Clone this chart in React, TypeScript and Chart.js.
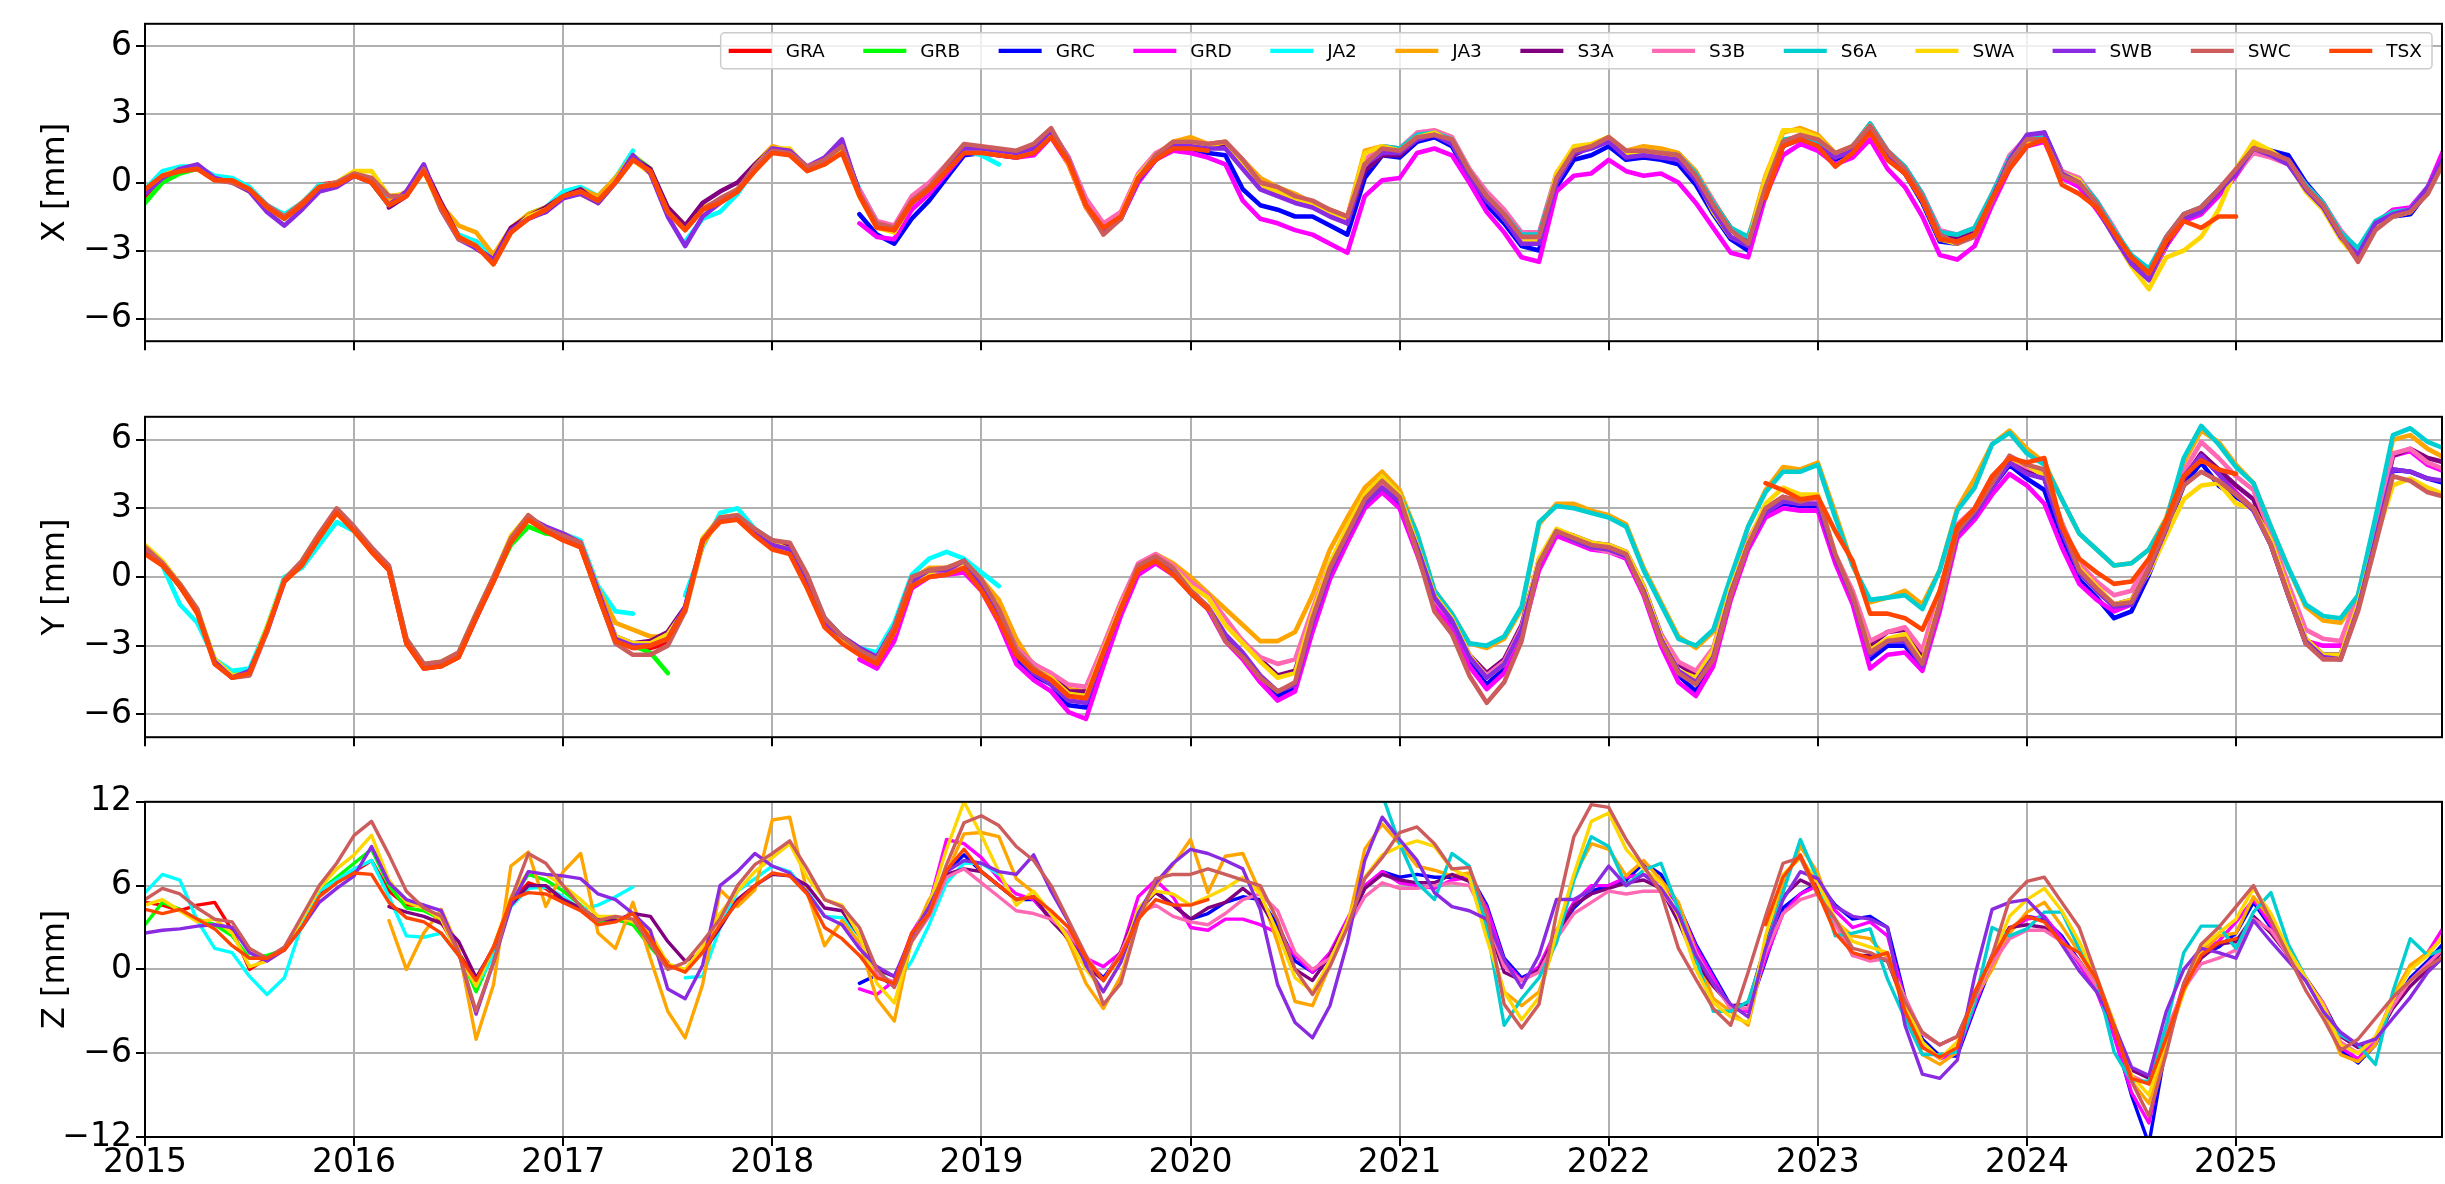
import React, { useEffect, useRef } from "react";
import { Chart, registerables } from "chart.js";

Chart.register(...registerables);

// ---------------- data ----------------
// samples are monthly; each series' first sample is given as a month index counted from Jan 2015
const BASE_YEAR = 2015;
const MONTHS_PER_YEAR = 12;
const X_TICKS = [2015, 2016, 2017, 2018, 2019, 2020, 2021, 2022, 2023, 2024, 2025];
const X_MIN = 2015;
const X_MAX = 2025.985;

const SERIES_NAMES = ["GRA", "GRB", "GRC", "GRD", "JA2", "JA3", "S3A", "S3B", "S6A", "SWA", "SWB", "SWC", "TSX"];
const SERIES_COLORS = ["#ff0000", "#00ff00", "#0000ff", "#ff00ff", "#00ffff", "#ffa500", "#800080", "#ff69b4", "#00ced1", "#ffd700", "#8a2be2", "#cd5c5c", "#ff4500"];

const PANEL_TITLES = ["X [mm]", "Y [mm]", "Z [mm]"];
const PANEL_Y_TICKS = [[-6, -3, 0, 3, 6], [-6, -3, 0, 3, 6], [-12, -6, 0, 6, 12]];
const PANEL_Y_RANGE = [[-7, 7], [-7, 7], [-12, 12]];

// GRACE-A (start month 0)
const GRA_X = [-0.6, 0.2, 0.6, 0.7, 0.2, 0.1, -0.3, -1.0, -1.5, -1.0, -0.1, 0.0,
  0.4, 0.0, -1.0, -0.4, 0.6, -1.1, -2.5, -2.6, -3.4, -2.1, -1.5, -1.3,
  -0.6, -0.4, -0.8, 0.1, 1.0, 0.5, -1.3];
const GRA_Y = [1.2, 0.6, -0.4, -1.5, -3.7, -4.3, -4.1, -2.3, -0.1, 0.6, 1.8, 2.8,
  2.1, 1.1, 0.3, -2.9, -4.0, -3.9, -3.5, -1.8, -0.2, 1.5, 2.6, 2.0,
  1.7, 1.3, -0.8, -2.8, -3.1, -3.1, -2.9];
const GRA_Z = [4.8, 4.6, 4.2, 4.6, 4.8, 2.8, 0.0, 0.8, 1.4, 3.4, 5.5, 6.4,
  7.0, 7.8, 5.6, 4.6, 4.6, 3.4, 1.2, -0.8, 1.6, 4.8, 6.2, 5.8,
  4.8, 4.4, 3.5, 3.6, 3.2, 2.0, 0.5];

// GRACE-B (start month 0)
const GRB_X = [-0.9, 0.0, 0.4, 0.6, 0.2, 0.1, -0.3, -1.1, -1.6, -0.9, -0.2, -0.1,
  0.4, 0.0, -1.0, -0.5, 0.6, -1.1, -2.4, -2.8, -3.4, -2.1, -1.4, -1.1,
  -0.5, -0.4, -0.8, 0.2, 1.2, 0.6, -1.2];
const GRB_Y = [1.2, 0.6, -0.4, -1.5, -3.6, -4.2, -4.1, -2.2, -0.1, 0.6, 1.7, 2.8,
  2.1, 1.2, 0.4, -2.8, -3.9, -3.8, -3.4, -1.7, -0.1, 1.4, 2.2, 1.9,
  1.8, 1.4, -0.8, -2.8, -3.0, -3.3, -4.2];
const GRB_Z = [3.2, 4.8, 4.3, 3.6, 3.2, 2.4, 0.8, 1.0, 1.4, 3.4, 5.6, 6.6,
  7.6, 8.6, 6.0, 4.4, 4.2, 3.6, 1.2, -1.6, 1.2, 5.0, 6.8, 6.4,
  5.6, 4.6, 3.4, 3.6, 3.2, 1.6, 0.2];

// GRACE-FO C (start month 41)
const GRC_X = [-1.4, -2.3, -2.7, -1.6, -0.8, 0.2, 1.2,
  1.3, 1.2, 1.1, 1.3, 2.1, 0.9, -1.0, -2.1, -1.5, 0.1, 1.0, 1.5,
  1.5, 1.3, 1.2, -0.3, -1.0, -1.2, -1.5, -1.5, -1.9, -2.3, 0.2, 1.2,
  1.1, 1.8, 2.0, 1.6, 0.2, -1.0, -1.8, -2.8, -3.0, -0.2, 1.0, 1.2,
  1.6, 1.0, 1.1, 1.0, 0.8, -0.1, -1.4, -2.5, -3.0, -0.5, 1.6, 1.9,
  1.6, 1.0, 1.4, 2.4, 1.1, 0.4, -0.9, -2.6, -2.7, -2.3, -0.7, 0.8,
  1.9, 2.2, 0.5, 0.1, -0.9, -2.1, -3.3, -4.2, -2.8, -1.5, -1.1, -0.3,
  0.5, 1.6, 1.4, 1.2, 0.0, -0.9, -2.2, -3.2, -2.0, -1.5, -1.4, -0.4, 1.5];
const GRC_Y = [-3.3, -3.8, -2.6, -0.4, 0.1, 0.2, 0.4,
  -0.5, -1.9, -3.6, -4.3, -4.7, -5.6, -5.7, -3.6, -1.6, 0.2, 0.7, 0.2,
  -0.7, -1.4, -2.6, -3.4, -4.5, -5.2, -4.9, -2.2, 0.1, 1.6, 3.1, 3.8,
  3.2, 1.2, -1.0, -2.1, -3.7, -4.7, -4.0, -2.5, 0.5, 1.9, 1.6, 1.3,
  1.2, 0.9, -0.7, -2.8, -4.3, -5.0, -3.7, -0.8, 1.3, 2.7, 3.2, 3.1,
  3.1, 0.8, -1.0, -3.6, -3.0, -3.0, -4.0, -1.3, 1.9, 2.7, 3.9, 4.9,
  4.3, 3.8, 1.6, -0.1, -0.9, -1.8, -1.5, 0.1, 2.0, 4.0, 5.0, 4.0,
  3.5, 3.0, 1.4, -0.8, -2.9, -3.4, -3.4, -1.4, 1.6, 4.7, 4.6, 4.3, 4.1];
const GRC_Z = [-1.0, -0.4, -1.2, 2.2, 4.0, 7.0, 8.2,
  7.0, 6.0, 5.0, 5.0, 3.6, 2.2, 0.6, -0.6, 1.0, 4.0, 5.6, 4.6,
  3.6, 4.0, 4.8, 5.2, 5.0, 3.2, 0.6, -0.2, 1.0, 3.2, 5.8, 7.0,
  6.6, 6.8, 6.6, 6.6, 6.8, 4.6, 0.8, -0.6, 0.0, 2.4, 4.4, 5.6,
  6.0, 6.4, 7.6, 6.8, 4.6, 1.8, -0.4, -2.6, -3.0, 0.6, 4.4, 5.4,
  6.2, 4.6, 3.6, 3.8, 3.0, -2.0, -5.0, -6.2, -6.2, -2.8, 0.4, 2.8,
  3.8, 3.6, 2.4, 0.6, -1.4, -4.6, -9.0, -12.5, -5.4, -1.2, 1.0, 1.6,
  2.6, 4.8, 3.0, 1.4, -0.8, -2.6, -5.8, -6.7, -5.4, -2.6, -0.6, 0.6, 2.0];

// GRACE-FO D (start month 41)
const GRD_X = [-1.8, -2.4, -2.5, -1.2, -0.5, 0.4, 1.3,
  1.3, 1.2, 1.1, 1.2, 2.0, 0.8, -1.1, -2.2, -1.6, 0.0, 1.0, 1.4,
  1.3, 1.1, 0.8, -0.8, -1.6, -1.8, -2.1, -2.3, -2.7, -3.1, -0.6, 0.1,
  0.2, 1.3, 1.5, 1.2, 0.0, -1.3, -2.2, -3.3, -3.5, -0.4, 0.3, 0.4,
  1.0, 0.5, 0.3, 0.4, 0.0, -0.9, -2.0, -3.1, -3.3, -0.6, 1.2, 1.7,
  1.4, 0.8, 1.1, 1.9, 0.6, -0.2, -1.5, -3.2, -3.4, -2.8, -1.0, 0.6,
  1.6, 1.8, 0.2, -0.2, -1.2, -2.3, -3.5, -4.3, -2.8, -1.7, -1.4, -0.6,
  0.3, 1.4, 1.3, 1.0, -0.1, -0.9, -2.2, -3.1, -1.8, -1.2, -1.1, -0.2, 1.6];
const GRD_Y = [-3.6, -4.0, -2.8, -0.5, 0.0, 0.1, 0.2,
  -0.6, -2.0, -3.8, -4.5, -5.0, -5.9, -6.2, -3.9, -1.7, 0.1, 0.6, 0.1,
  -0.5, -1.4, -2.8, -3.6, -4.6, -5.4, -5.0, -2.4, -0.1, 1.5, 3.0, 3.7,
  3.0, 1.0, -1.2, -2.3, -3.9, -4.9, -4.2, -2.6, 0.3, 1.8, 1.5, 1.2,
  1.1, 0.8, -0.8, -3.0, -4.6, -5.2, -3.9, -1.0, 1.2, 2.6, 3.0, 2.9,
  2.9, 0.6, -1.2, -4.0, -3.4, -3.3, -4.1, -1.5, 1.7, 2.5, 3.6, 4.5,
  4.0, 3.2, 1.3, -0.3, -1.0, -1.5, -1.2, 0.3, 2.1, 4.3, 5.3, 4.5,
  3.7, 3.0, 1.5, -0.7, -2.8, -3.0, -3.0, -1.1, 1.9, 5.3, 5.5, 4.9, 4.6];
const GRD_Z = [-1.4, -1.8, -0.8, 2.6, 4.6, 9.3, 9.0,
  8.0, 6.5, 5.4, 5.0, 3.6, 2.2, 0.8, 0.2, 1.2, 5.2, 6.4, 5.2,
  3.0, 2.8, 3.6, 3.6, 3.2, 2.6, 1.0, -0.2, 1.2, 3.6, 6.0, 7.0,
  6.2, 6.0, 5.8, 6.4, 6.6, 4.4, 0.6, -0.8, 0.2, 2.8, 4.8, 6.0,
  6.0, 6.6, 6.8, 6.2, 4.6, 1.6, -0.6, -2.8, -3.0, 0.8, 4.0, 5.4,
  6.0, 4.2, 3.0, 3.4, 2.4, -2.2, -5.4, -6.4, -6.0, -2.6, 0.6, 2.8,
  3.6, 3.8, 2.2, 0.4, -1.6, -4.8, -8.8, -11.0, -5.2, -1.0, 1.4, 2.0,
  3.4, 5.0, 3.2, 1.2, -0.8, -2.6, -5.6, -6.4, -5.0, -2.0, 0.2, 1.2, 3.2];

// Jason-2 (start month 0, gap in mid 2017)
const JA2_X = [-0.3, 0.5, 0.7, 0.7, 0.3, 0.2, -0.2, -1.0, -1.4, -0.9, -0.1, -0.1,
  0.4, 0.1, -0.9, -0.5, 0.6, -1.2, -2.3, -2.6, -3.3, -2.2, -1.5, -1.1,
  -0.4, -0.2, -0.6, 0.2, 1.4, null, null, -2.6, -1.6, -1.3, -0.5, 0.6,
  1.5, 1.3, 0.6, 0.8, 1.4, -0.3, -1.7, -2.0, -0.9, -0.3, 0.6, 1.4,
  1.2, 0.8];
const JA2_Y = [1.3, 0.5, -1.2, -2.0, -3.6, -4.1, -4.0, -2.2, 0.0, 0.4, 1.4, 2.4,
  2.0, 1.2, 0.4, -2.7, -3.8, -3.7, -3.3, -1.6, 0.0, 1.5, 2.6, 2.1,
  1.9, 1.6, -0.4, -1.5, -1.6, null, null, -0.8, 1.3, 2.8, 3.0, 2.1,
  1.6, 1.3, 0.0, -1.8, -2.6, -3.1, -3.3, -2.0, 0.1, 0.8, 1.1, 0.8,
  0.2, -0.4];
const JA2_Z = [5.5, 6.8, 6.4, 3.5, 1.5, 1.2, -0.5, -1.8, -0.6, 3.2, 5.6, 6.4,
  7.2, 7.8, 5.2, 2.4, 2.3, 2.6, 1.0, -1.2, 1.0, 4.5, 5.8, 5.9,
  5.2, 4.3, 4.6, 5.2, 5.9, null, null, -0.6, -0.5, 3.0, 5.6, 6.5,
  7.4, 7.0, 5.6, 3.8, 3.7, 2.4, 0.0, -1.2, 0.6, 3.2, 6.2, 7.6,
  7.6, 6.8];

// Jason-3 (start month 14)
const JA3_X = [-0.8, -0.4, 0.6, -1.0, -1.9, -2.2, -3.2, -2.0, -1.4, -1.1,
  -0.6, -0.3, -0.6, 0.2, 1.2, 0.5, -1.1, -1.9, -1.1, -0.8, -0.3, 0.8,
  1.6, 1.4, 0.6, 0.9, 1.5, -0.4, -1.9, -2.2, -0.8, -0.2, 0.7, 1.6,
  1.5, 1.4, 1.3, 1.6, 2.2, 0.8, -1.1, -2.2, -1.6, 0.2, 1.2, 1.8,
  2.0, 1.7, 1.8, 1.0, 0.2, -0.2, -0.5, -0.9, -1.2, -1.5, 1.4, 1.6,
  1.5, 2.1, 2.3, 2.0, 0.6, -0.5, -1.3, -2.3, -2.4, 0.4, 1.5, 1.6,
  2.0, 1.4, 1.6, 1.5, 1.3, 0.5, -0.8, -2.0, -2.5, 0.3, 2.2, 2.4,
  2.1, 1.3, 1.6, 2.5, 1.3, 0.6, -0.6, -2.2, -2.6, -2.2, -0.5, 1.0,
  1.8, 1.9, 0.4, 0.0, -0.9, -2.2, -3.4, -4.3, -2.7, -1.6, -1.2, -0.4,
  0.5, 1.6, 1.3, 0.9, -0.2, -1.0, -2.3, -3.3, -1.9, -1.3, -1.3, -0.3, 1.2];
const JA3_Y = [0.4, -2.7, -3.8, -3.8, -3.4, -1.7, 0.0, 1.7, 2.6, 2.1,
  1.9, 1.5, -0.5, -2.0, -2.3, -2.6, -2.6, -1.5, 1.4, 2.6, 2.7, 2.0,
  1.5, 1.2, -0.1, -1.9, -2.6, -3.2, -3.7, -2.4, -0.1, 0.4, 0.4, 0.7,
  -0.1, -1.0, -2.7, -3.9, -4.3, -4.9, -5.0, -3.0, -1.1, 0.5, 1.0, 0.6,
  0.0, -0.7, -1.4, -2.1, -2.8, -2.8, -2.4, -0.8, 1.2, 2.6, 3.9, 4.6,
  3.8, 1.9, -0.6, -1.6, -2.9, -3.1, -2.7, -1.4, 2.3, 3.2, 3.2, 2.9,
  2.7, 2.3, 0.4, -1.1, -2.6, -3.1, -2.4, -0.1, 2.2, 3.8, 4.8, 4.7,
  5.0, 2.8, 0.5, -1.1, -0.9, -0.6, -1.2, 0.3, 3.0, 4.3, 5.8, 6.4,
  5.6, 5.0, 3.4, 1.9, 1.2, 0.5, 0.6, 1.2, 2.6, 5.0, 6.4, 5.9,
  4.9, 4.1, 2.2, 0.4, -1.3, -1.9, -2.0, -0.9, 2.5, 6.0, 6.2, 5.6, 5.2];
const JA3_Z = [3.5, 0.0, 2.6, 4.3, 1.5, -5.0, -1.1, 7.4, 8.4, 4.5,
  7.0, 8.3, 2.6, 1.5, 4.8, 0.8, -3.0, -4.9, -1.1, 5.7, 4.5, 5.7,
  10.7, 10.9, 5.5, 1.7, 3.5, 1.9, -2.1, -3.7, 2.2, 5.0, 6.9, 9.7,
  9.8, 9.5, 6.5, 5.5, 4.0, 2.0, -1.0, -2.8, -0.5, 3.5, 6.0, 7.5,
  9.3, 5.5, 8.1, 8.3, 5.5, 1.9, -2.3, -2.6, 0.3, 3.1, 8.6, 10.4,
  9.0, 7.4, 7.1, 6.7, 6.9, 2.6, -1.6, -2.6, -1.6, 2.2, 6.7, 9.0,
  8.6, 6.7, 7.8, 6.4, 4.8, 1.2, -2.1, -3.0, -4.0, 1.5, 6.0, 8.8,
  6.9, 3.4, 2.4, 2.2, 0.8, -3.0, -6.1, -6.8, -5.9, -2.1, 0.0, 2.6,
  4.1, 4.8, 3.1, 1.2, -0.9, -4.0, -8.0, -9.6, -5.4, -1.6, 1.2, 2.4,
  2.6, 5.2, 3.6, 0.8, -0.7, -3.0, -6.1, -6.6, -5.4, -1.9, 0.3, 1.2, 2.4];

// Sentinel-3A (start month 14)
const S3A_X = [-1.1, -0.6, 0.7, -0.9, -2.4, -2.9, -3.4, -2.0, -1.5, -1.1,
  -0.6, -0.3, -0.9, 0.0, 1.1, 0.6, -1.1, -1.9, -0.9, -0.4, 0.0, 0.8,
  1.5, 1.4, 0.6, 1.0, 1.7, -0.4, -1.8, -2.0, -0.8, -0.2, 0.7, 1.5,
  1.5, 1.4, 1.3, 1.5, 2.3, 1.1, -0.8, -2.1, -1.5, 0.3, 1.2, 1.7,
  1.7, 1.6, 1.7, 0.7, -0.2, -0.4, -0.8, -1.0, -1.4, -1.8, 0.5, 1.2,
  1.2, 1.9, 2.1, 1.8, 0.4, -0.7, -1.4, -2.4, -2.4, 0.2, 1.2, 1.6,
  1.9, 1.3, 1.4, 1.3, 1.2, 0.3, -0.9, -2.0, -2.6, -0.4, 1.8, 2.0,
  1.8, 1.1, 1.6, 2.5, 1.3, 0.6, -0.6, -2.3, -2.4, -2.1, -0.6, 1.1,
  2.0, 2.1, 0.4, 0.1, -0.9, -2.2, -3.4, -4.0, -2.7, -1.5, -1.2, -0.4,
  0.4, 1.4, 1.2, 0.9, -0.2, -1.0, -2.3, -3.0, -1.8, -1.3, -1.3, -0.3, 1.2];
const S3A_Y = [0.4, -2.8, -3.9, -3.8, -3.4, -1.7, -0.1, 1.6, 2.6, 2.0,
  1.8, 1.4, -0.6, -2.6, -2.9, -2.8, -2.4, -1.3, 1.6, 2.5, 2.6, 2.0,
  1.6, 1.4, -0.1, -1.8, -2.6, -3.1, -3.5, -2.2, -0.1, 0.2, 0.3, 0.7,
  -0.2, -1.5, -3.1, -3.8, -4.3, -5.0, -5.0, -3.1, -1.2, 0.4, 0.9, 0.4,
  -0.3, -0.8, -2.0, -2.8, -3.6, -4.3, -4.1, -1.6, 0.5, 2.0, 3.3, 4.0,
  3.4, 1.3, -0.9, -1.9, -3.4, -4.2, -3.6, -2.1, 0.7, 2.0, 1.8, 1.5,
  1.4, 1.1, -0.4, -2.5, -3.8, -4.3, -3.2, -0.5, 1.6, 3.0, 3.5, 3.3,
  3.2, 0.9, -0.9, -3.0, -2.4, -2.3, -3.4, -0.9, 2.1, 2.8, 4.0, 5.0,
  4.6, 4.3, 2.0, 0.3, -0.5, -1.2, -1.0, 0.3, 2.2, 4.3, 5.4, 4.7,
  4.0, 3.4, 1.5, -0.7, -2.7, -3.4, -3.4, -1.3, 1.8, 5.3, 5.6, 5.2, 5.0];
const S3A_Z = [4.5, 4.1, 3.8, 3.3, 2.0, -0.6, 1.5, 4.6, 6.0, 6.0,
  5.0, 4.4, 3.6, 3.5, 4.0, 3.8, 2.0, 0.6, 1.2, 3.0, 5.0, 6.0,
  6.8, 6.7, 6.0, 4.4, 4.2, 2.4, 0.0, -0.5, 2.0, 4.0, 6.8, 7.2,
  7.0, 6.0, 5.0, 5.2, 3.5, 2.2, 0.3, -0.8, 1.3, 4.3, 5.5, 4.6,
  3.6, 4.4, 4.8, 5.8, 4.8, 2.8, 0.0, -0.8, 1.0, 3.4, 5.8, 6.8,
  6.4, 6.2, 6.2, 6.8, 6.3, 3.4, -0.2, -0.8, 0.0, 2.4, 4.6, 5.4,
  5.8, 6.2, 6.4, 5.8, 3.4, 0.6, -1.2, -2.6, -2.5, 1.8, 5.2, 6.4,
  5.8, 3.5, 1.0, 1.0, 0.6, -2.5, -4.6, -5.4, -4.8, -2.0, 1.0, 3.0,
  3.2, 3.0, 2.0, 0.6, -1.2, -4.2, -7.2, -7.8, -4.6, -1.4, 0.8, 1.8,
  2.0, 3.8, 2.6, 1.0, -0.6, -2.4, -4.8, -5.6, -5.0, -2.8, -1.2, 0.0, 1.6];

// Sentinel-3B (start month 41)
const S3B_X = [-0.3, -1.7, -1.9, -0.6, 0.0, 0.8, 1.5,
  1.5, 1.4, 1.3, 1.5, 2.3, 1.1, -0.7, -1.8, -1.3, 0.4, 1.3, 1.7,
  1.8, 1.7, 1.8, 1.0, 0.0, -0.3, -0.6, -0.9, -1.3, -1.5, 1.0, 1.6,
  1.5, 2.2, 2.3, 2.0, 0.6, -0.4, -1.2, -2.2, -2.2, 0.4, 1.4, 1.6,
  1.9, 1.3, 1.4, 1.3, 1.2, 0.4, -0.8, -2.1, -2.4, -0.3, 1.8, 2.1,
  1.8, 1.2, 1.6, 2.6, 1.4, 0.7, -0.5, -2.1, -2.3, -2.0, -0.5, 1.2,
  2.0, 2.1, 0.5, 0.2, -0.8, -2.0, -3.3, -3.9, -2.4, -1.4, -1.1, -0.3,
  0.4, 1.3, 1.1, 0.8, -0.2, -0.9, -2.1, -3.0, -1.8, -1.3, -1.2, -0.2, 1.1];
const S3B_Y = [-3.2, -3.5, -2.2, -0.2, 0.2, 0.3, 0.5,
  -0.4, -1.4, -3.1, -3.8, -4.2, -4.7, -4.8, -3.0, -1.1, 0.6, 1.0, 0.5,
  -0.2, -0.8, -1.8, -2.8, -3.5, -3.8, -3.6, -1.4, 0.6, 2.0, 3.4, 4.0,
  3.4, 1.2, -1.0, -1.9, -3.5, -4.3, -3.7, -2.2, 0.8, 2.0, 1.6, 1.3,
  1.1, 0.9, -0.5, -2.5, -3.7, -4.1, -3.1, -0.4, 1.6, 3.0, 3.4, 3.2,
  3.3, 1.0, -0.6, -2.8, -2.4, -2.2, -3.2, -0.6, 2.3, 3.0, 4.4, 5.2,
  4.8, 4.5, 2.4, 0.6, -0.2, -0.8, -0.6, 0.7, 2.4, 4.6, 5.9, 5.2,
  4.4, 3.8, 1.9, -0.3, -2.3, -2.7, -2.8, -0.8, 2.1, 5.4, 5.6, 5.0, 4.7];
const S3B_Z = [1.8, -0.4, -0.9, 2.0, 3.8, 6.6, 7.2,
  6.2, 5.2, 4.2, 4.0, 3.6, 2.6, 1.0, -0.8, 1.2, 4.0, 4.6, 3.8,
  3.4, 3.2, 4.0, 5.0, 5.4, 4.2, 1.2, 0.0, 0.8, 3.0, 5.2, 6.2,
  5.8, 5.8, 6.0, 6.2, 6.0, 3.6, 0.2, -0.8, -0.2, 2.2, 4.0, 4.8,
  5.6, 5.4, 5.6, 5.6, 4.0, 1.2, -1.0, -2.8, -2.8, 1.2, 4.0, 5.0,
  5.4, 3.2, 1.0, 0.6, 0.8, -2.0, -4.6, -5.4, -4.8, -2.2, 0.4, 2.2,
  2.8, 2.8, 2.0, 0.6, -1.2, -4.0, -7.6, -8.2, -4.4, -1.4, 0.4, 0.8,
  1.4, 3.6, 2.8, 1.0, -0.8, -2.4, -5.2, -6.0, -5.0, -2.6, -0.8, 0.4, 1.6];

// Sentinel-6A (start month 71)
const S6A_X = [1.6,
  1.5, 2.1, 2.2, 1.9, 0.5, -0.6, -1.4, -2.3, -2.3, 0.3, 1.5, 1.6,
  1.9, 1.3, 1.4, 1.3, 1.2, 0.4, -0.9, -2.0, -2.4, -0.1, 1.9, 2.0,
  1.8, 1.2, 1.6, 2.6, 1.4, 0.7, -0.5, -2.2, -2.3, -2.0, -0.5, 1.1,
  1.9, 2.0, 0.4, 0.1, -0.8, -2.1, -3.2, -3.8, -2.4, -1.4, -1.1, -0.3,
  0.5, 1.5, 1.3, 0.9, -0.1, -0.9, -2.2, -2.9, -1.7, -1.3, -1.2, -0.2, 1.0];
const S6A_Y = [4.4,
  3.6, 1.9, -0.6, -1.6, -2.9, -3.0, -2.6, -1.3, 2.4, 3.1, 3.0, 2.8,
  2.6, 2.2, 0.3, -1.2, -2.7, -3.0, -2.3, 0.0, 2.2, 3.7, 4.6, 4.6,
  4.9, 2.6, 0.5, -1.0, -0.9, -0.8, -1.4, 0.3, 2.9, 3.9, 5.8, 6.3,
  5.4, 4.9, 3.4, 1.9, 1.2, 0.5, 0.6, 1.2, 2.5, 5.2, 6.6, 5.8,
  4.8, 4.1, 2.2, 0.4, -1.2, -1.7, -1.8, -0.8, 2.6, 6.2, 6.5, 5.9, 5.6];
const S6A_Z = [12.5,
  9.0, 6.2, 5.0, 8.3, 7.4, 3.0, -4.0, -2.1, -0.6, 1.9, 6.4, 9.5,
  8.8, 6.0, 7.1, 7.6, 4.3, 0.8, -3.0, -3.0, -2.3, 1.5, 5.5, 9.3,
  6.4, 2.4, 2.6, 2.9, -0.7, -3.5, -6.1, -6.1, -5.9, -2.4, 3.0, 2.4,
  2.9, 4.1, 4.1, 1.5, -0.7, -5.9, -8.0, -8.0, -4.0, 1.2, 3.1, 3.1,
  1.5, 4.1, 5.5, 1.8, -0.6, -2.8, -4.7, -5.4, -6.8, -1.6, 2.2, 1.0, 1.5];

// Swarm A (start month 0)
const SWA_X = [-0.4, 0.3, 0.6, 0.7, 0.2, 0.0, -0.4, -1.1, -1.5, -0.9, -0.2, 0.0,
  0.5, 0.5, -0.6, -0.5, 0.5, -1.2, -2.4, -2.8, -3.6, -2.2, -1.5, -1.2,
  -0.6, -0.5, -0.9, 0.0, 1.0, 0.4, -1.3, -2.1, -1.2, -0.9, -0.4, 0.7,
  1.5, 1.5, 0.6, 0.8, 1.4, -0.6, -2.0, -2.2, -0.9, -0.3, 0.7, 1.5,
  1.5, 1.3, 1.2, 1.5, 2.2, 0.9, -1.0, -2.1, -1.5, 0.3, 1.2, 1.8,
  1.8, 1.6, 1.8, 0.8, -0.2, -0.4, -0.7, -1.0, -1.4, -1.6, 1.3, 1.6,
  1.4, 2.0, 2.2, 1.8, 0.4, -0.7, -1.6, -2.6, -2.6, 0.4, 1.6, 1.7,
  2.0, 1.3, 1.4, 1.3, 1.1, 0.2, -1.3, -2.4, -2.7, 0.2, 2.3, 2.3,
  2.0, 1.2, 1.6, 2.5, 1.3, 0.5, -0.8, -2.5, -2.7, -2.3, -0.7, 1.0,
  1.8, 1.9, 0.4, 0.1, -1.0, -2.4, -3.7, -4.7, -3.3, -3.0, -2.4, -1.2,
  0.6, 1.8, 1.4, 0.9, -0.4, -1.2, -2.5, -3.4, -2.0, -1.5, -1.3, -0.4, 1.2];
const SWA_Y = [1.4, 0.7, -0.3, -1.4, -3.6, -4.3, -4.2, -2.2, -0.1, 0.7, 1.9, 2.9,
  2.1, 1.2, 0.4, -2.8, -3.8, -3.7, -3.3, -1.6, 0.0, 1.8, 2.7, 2.1,
  1.9, 1.5, -0.6, -2.6, -2.9, -2.9, -2.5, -1.4, 1.7, 2.6, 2.7, 2.0,
  1.5, 1.2, -0.2, -2.0, -2.8, -3.3, -3.7, -2.4, -0.2, 0.2, 0.4, 0.6,
  -0.3, -1.6, -3.3, -4.0, -4.4, -5.1, -5.2, -3.2, -1.3, 0.4, 0.8, 0.4,
  -0.4, -0.9, -2.1, -2.9, -3.7, -4.4, -4.2, -1.6, 0.6, 2.2, 3.6, 4.4,
  3.6, 1.4, -0.8, -1.8, -3.4, -4.4, -3.8, -2.3, 0.8, 2.1, 1.8, 1.5,
  1.4, 1.1, -0.4, -2.6, -4.1, -4.4, -3.2, -0.5, 1.5, 3.2, 3.9, 3.6,
  3.6, 1.0, -0.9, -3.2, -2.7, -2.5, -3.7, -1.1, 2.0, 2.8, 4.1, 5.2,
  4.9, 4.4, 2.3, 0.4, -0.4, -1.2, -1.0, 0.2, 1.8, 3.4, 4.0, 4.1,
  3.2, 3.0, 1.6, -0.6, -2.7, -3.4, -3.4, -1.2, 1.6, 4.0, 4.3, 3.9, 3.6];
const SWA_Z = [4.6, 5.0, 4.2, 3.4, 3.6, 2.6, 0.2, 0.6, 1.4, 3.6, 5.8, 7.2,
  8.2, 9.6, 6.4, 4.8, 4.4, 3.6, 1.0, -1.2, 1.6, 5.2, 7.0, 6.8,
  6.0, 5.0, 3.8, 3.8, 3.4, 2.6, 0.4, 0.0, 1.6, 4.0, 5.6, 7.0,
  8.0, 9.0, 6.6, 5.0, 4.6, 2.4, -1.0, -2.4, 2.0, 4.6, 8.6, 12.0,
  9.6, 7.0, 4.6, 5.6, 4.0, 2.2, 0.0, -1.6, 0.6, 4.4, 5.6, 5.4,
  4.6, 5.2, 5.8, 6.6, 5.4, 2.6, -0.6, -1.6, 0.6, 3.4, 6.6, 8.2,
  8.8, 9.2, 8.8, 7.2, 6.6, 2.2, -1.6, -3.6, -2.0, 2.6, 6.8, 10.6,
  11.2, 8.6, 7.2, 6.2, 3.8, 0.0, -2.4, -3.4, -3.8, 2.4, 6.8, 8.0,
  6.2, 3.6, 2.0, 1.6, 1.2, -2.4, -5.2, -6.4, -5.2, -2.0, 0.8, 3.8,
  5.0, 5.8, 4.2, 2.0, -0.6, -3.8, -7.6, -9.0, -5.0, -1.6, 1.6, 2.6,
  3.6, 5.8, 4.0, 1.4, -0.6, -2.6, -5.4, -6.0, -4.8, -2.2, 0.0, 1.0, 2.6];

// Swarm B (start month 0)
const SWB_X = [-0.5, 0.2, 0.6, 0.8, 0.2, 0.0, -0.4, -1.3, -1.9, -1.2, -0.4, -0.2,
  0.3, 0.0, -1.0, -0.4, 0.8, -1.2, -2.5, -2.9, -3.4, -2.1, -1.6, -1.3,
  -0.7, -0.5, -0.9, 0.0, 1.2, 0.4, -1.5, -2.8, -1.5, -0.9, -0.4, 0.6,
  1.5, 1.4, 0.7, 1.1, 1.9, -0.5, -1.9, -2.1, -0.9, -0.3, 0.6, 1.5,
  1.5, 1.4, 1.3, 1.5, 2.3, 1.0, -1.0, -2.1, -1.6, 0.1, 1.0, 1.6,
  1.6, 1.5, 1.5, 0.6, -0.3, -0.6, -0.9, -1.1, -1.5, -1.8, 0.8, 1.3,
  1.3, 1.9, 2.1, 1.7, 0.3, -0.8, -1.6, -2.7, -2.7, 0.0, 1.3, 1.5,
  1.8, 1.1, 1.2, 1.1, 1.0, 0.1, -1.2, -2.4, -2.8, -0.3, 1.7, 1.9,
  1.6, 1.1, 1.4, 2.4, 1.1, 0.4, -0.8, -2.5, -2.6, -2.3, -0.7, 1.0,
  2.1, 2.2, 0.4, 0.0, -1.1, -2.4, -3.6, -4.3, -2.6, -1.6, -1.3, -0.4,
  0.4, 1.5, 1.2, 0.8, -0.3, -1.1, -2.4, -3.2, -1.8, -1.4, -1.2, -0.2, 1.2];
const SWB_Y = [1.2, 0.6, -0.4, -1.5, -3.7, -4.4, -4.1, -2.4, -0.2, 0.6, 1.8, 2.9,
  2.1, 1.2, 0.4, -2.8, -3.9, -3.8, -3.4, -1.8, -0.1, 1.6, 2.6, 2.2,
  1.9, 1.5, -0.6, -2.7, -3.0, -3.0, -2.7, -1.3, 1.6, 2.5, 2.6, 1.9,
  1.4, 1.2, -0.2, -2.0, -2.6, -3.1, -3.5, -2.2, -0.2, 0.3, 0.3, 0.7,
  -0.4, -1.8, -3.4, -4.2, -4.7, -5.4, -5.5, -3.4, -1.4, 0.3, 0.7, 0.3,
  -0.6, -1.3, -2.5, -3.3, -4.3, -5.0, -4.7, -2.0, 0.2, 1.8, 3.2, 3.9,
  3.3, 1.3, -0.9, -1.9, -3.5, -4.4, -3.8, -2.3, 0.6, 2.0, 1.6, 1.3,
  1.2, 0.9, -0.6, -2.7, -4.1, -4.6, -3.5, -0.7, 1.4, 2.8, 3.3, 3.2,
  3.2, 0.9, -0.9, -3.4, -2.8, -2.8, -3.9, -1.2, 1.9, 2.7, 3.9, 5.0,
  4.5, 4.3, 2.0, 0.2, -0.6, -1.3, -1.2, 0.3, 2.1, 4.4, 5.3, 4.5,
  3.6, 2.9, 1.4, -0.8, -2.8, -3.5, -3.6, -1.4, 1.6, 4.7, 4.6, 4.3, 4.2];
const SWB_Z = [2.6, 2.8, 2.9, 3.1, 3.2, 3.0, 1.2, 0.6, 1.4, 3.0, 4.8, 5.8,
  6.7, 8.8, 6.2, 5.0, 4.6, 4.2, 1.2, -3.2, 0.5, 4.6, 7.0, 6.8,
  6.7, 6.5, 5.4, 5.0, 4.0, 2.8, -1.4, -2.1, 0.3, 6.0, 7.0, 8.3,
  7.4, 6.9, 5.5, 3.8, 3.2, 1.5, 0.2, -0.5, 2.4, 4.5, 7.0, 7.8,
  7.6, 7.0, 6.8, 8.2, 5.6, 3.4, 0.3, -1.6, 0.5, 4.0, 6.2, 7.6,
  8.6, 8.3, 7.8, 7.2, 4.3, -1.1, -3.8, -4.9, -2.6, 1.9, 7.8, 10.9,
  9.3, 7.8, 5.5, 4.5, 4.2, 3.6, 0.7, -1.3, 1.0, 5.0, 5.0, 5.7,
  7.4, 6.0, 6.8, 5.8, 4.0, 1.0, -1.0, -2.5, -3.4, 1.5, 5.0, 7.0,
  6.5, 4.5, 3.8, 3.6, 3.0, -4.0, -7.5, -7.8, -6.5, -0.5, 4.3, 4.8,
  5.0, 3.7, 1.8, -0.1, -1.6, -4.0, -7.0, -7.6, -3.0, 0.0, 1.5, 1.2,
  0.8, 3.5, 2.0, 0.6, -0.8, -3.0, -4.5, -5.4, -5.0, -3.5, -2.0, -0.2, 1.0];

// Swarm C (start month 0)
const SWC_X = [-0.3, 0.3, 0.5, 0.6, 0.1, 0.0, -0.3, -1.0, -1.5, -0.9, -0.2, 0.0,
  0.4, 0.2, -0.6, -0.6, 0.6, -1.2, -2.5, -2.8, -3.6, -2.2, -1.6, -1.2,
  -0.6, -0.4, -0.8, 0.0, 1.0, 0.5, -1.3, -2.1, -1.2, -0.7, -0.3, 0.7,
  1.4, 1.3, 0.7, 1.0, 1.6, -0.5, -1.8, -2.0, -0.8, -0.2, 0.8, 1.7,
  1.6, 1.5, 1.4, 1.7, 2.4, 1.0, -1.0, -2.3, -1.6, 0.2, 1.2, 1.8,
  1.8, 1.7, 1.8, 1.0, 0.0, -0.2, -0.6, -0.8, -1.2, -1.5, 0.8, 1.5,
  1.4, 2.0, 2.1, 1.9, 0.5, -0.6, -1.4, -2.4, -2.4, 0.2, 1.4, 1.6,
  2.0, 1.4, 1.4, 1.3, 1.2, 0.3, -1.0, -2.1, -2.7, -0.2, 1.8, 2.1,
  1.9, 1.3, 1.6, 2.5, 1.4, 0.6, -0.6, -2.3, -2.7, -2.4, -0.8, 0.9,
  1.9, 1.9, 0.3, 0.0, -0.9, -2.2, -3.3, -4.0, -2.4, -1.4, -1.1, -0.3,
  0.6, 1.5, 1.3, 1.0, -0.2, -1.0, -2.3, -3.5, -2.1, -1.5, -1.3, -0.5, 1.0];
const SWC_Y = [1.3, 0.6, -0.3, -1.4, -3.8, -4.4, -4.3, -2.4, -0.1, 0.7, 1.9, 3.0,
  2.2, 1.3, 0.5, -2.7, -3.8, -3.7, -3.3, -1.6, 0.0, 1.7, 2.7, 2.1,
  1.8, 1.5, -0.8, -2.9, -3.4, -3.4, -3.0, -1.5, 1.6, 2.6, 2.7, 2.1,
  1.6, 1.5, 0.1, -1.8, -2.6, -3.2, -3.6, -2.2, 0.0, 0.3, 0.4, 0.7,
  -0.1, -1.4, -3.2, -4.0, -4.5, -5.2, -5.3, -3.3, -1.4, 0.5, 0.9, 0.4,
  -0.6, -1.3, -2.8, -3.5, -4.4, -5.0, -4.6, -1.8, 0.4, 1.9, 3.4, 4.2,
  3.5, 1.1, -1.5, -2.5, -4.3, -5.5, -4.6, -2.8, 0.6, 2.0, 1.7, 1.4,
  1.3, 1.0, -0.7, -2.8, -4.2, -4.7, -3.6, -0.8, 1.4, 3.0, 3.5, 3.3,
  3.5, 1.0, -0.8, -3.3, -2.8, -2.7, -3.8, -1.2, 2.0, 2.9, 4.1, 5.3,
  4.9, 4.7, 2.3, 0.3, -0.5, -1.2, -1.1, 0.4, 2.2, 4.0, 4.6, 4.2,
  3.6, 3.0, 1.4, -0.8, -2.9, -3.6, -3.6, -1.5, 1.4, 4.4, 4.2, 3.7, 3.5];
const SWC_Z = [5.0, 5.8, 5.4, 4.4, 3.6, 3.4, 1.5, 0.8, 1.6, 3.8, 6.0, 7.6,
  9.6, 10.6, 8.2, 5.6, 4.4, 3.8, 1.2, -3.0, 0.5, 5.0, 8.3, 7.6,
  6.0, 4.5, 3.5, 3.8, 3.6, 1.8, 0.0, 0.5, 2.0, 3.6, 6.0, 7.5,
  8.3, 9.2, 7.2, 5.0, 4.5, 3.0, 0.0, -1.3, 2.0, 4.0, 7.5, 10.5,
  11.0, 10.3, 8.8, 7.8, 6.0, 3.5, 1.0, -2.5, -1.0, 3.5, 6.5, 6.8,
  6.8, 7.2, 6.8, 6.4, 6.0, 3.5, 0.0, -1.8, 0.2, 3.0, 6.5, 8.0,
  9.8, 10.2, 9.0, 7.2, 7.3, 4.0, -2.5, -4.2, -2.5, 4.0, 9.5, 11.8,
  11.6, 9.3, 7.4, 5.5, 1.5, -0.7, -2.8, -4.0, -0.2, 3.8, 7.6, 8.0,
  5.3, 3.6, 1.5, 1.2, 0.6, -2.3, -4.5, -5.4, -4.8, -2.0, 1.0, 5.0,
  6.3, 6.6, 4.8, 3.0, -0.5, -4.0, -8.0, -10.5, -6.0, -1.0, 1.8, 3.0,
  4.5, 6.0, 3.5, 1.0, -1.5, -3.5, -5.8, -5.0, -3.5, -2.0, -0.8, 0.2, 1.0];

// TerraSAR-X: first block from month 0, second block from month 93
const TSX_X_A = [-0.3, 0.3, 0.5, 0.6, 0.1, 0.1, -0.3, -1.1, -1.6, -1.0, -0.2, -0.1,
  0.3, 0.0, -1.0, -0.6, 0.5, -1.0, -2.4, -2.8, -3.6, -2.2, -1.6, -1.2,
  -0.6, -0.4, -0.8, 0.0, 1.0, 0.5, -1.3, -2.1, -1.2, -0.9, -0.4, 0.5,
  1.3, 1.2, 0.5, 0.8, 1.3, -0.6, -2.0, -2.1, -0.9, -0.3, 0.5, 1.3,
  1.3, 1.2, 1.1, 1.3, 2.0, 0.9, -1.0, -2.0, -1.5, 0.2, 1.0, 1.5,
  1.5, 1.4];
const TSX_Y_A = [1.0, 0.5, -0.4, -1.6, -3.8, -4.4, -4.2, -2.3, -0.2, 0.5, 1.7, 2.8,
  2.0, 1.1, 0.3, -2.9, -4.0, -3.9, -3.5, -1.8, -0.2, 1.5, 2.5, 2.0,
  1.6, 1.3, -0.8, -2.8, -3.1, -3.0, -2.7, -1.4, 1.6, 2.4, 2.5, 1.8,
  1.2, 1.0, -0.5, -2.2, -2.9, -3.4, -3.8, -2.4, -0.4, 0.0, 0.1, 0.4,
  -0.6, -1.9, -3.4, -4.1, -4.5, -5.2, -5.3, -3.3, -1.4, 0.3, 0.7, 0.1,
  -0.7, -1.4];
const TSX_Z_A = [4.3, 4.0, 4.3, 3.6, 2.9, 1.7, 0.8, 0.8, 1.4, 3.0, 5.2, 6.2,
  6.9, 6.8, 4.8, 3.7, 3.4, 2.6, 1.0, -0.8, 1.6, 5.0, 5.5, 5.4,
  4.8, 4.2, 3.2, 3.4, 4.0, 2.2, 0.3, -0.2, 1.2, 3.2, 4.8, 6.0,
  6.9, 6.7, 5.4, 3.0, 2.2, 1.0, -0.6, -1.0, 2.6, 4.0, 7.1, 8.6,
  7.0, 6.0, 5.0, 5.2, 4.2, 3.0, 0.8, -0.8, 1.0, 3.6, 5.0, 4.6,
  4.6, 5.0];
const TSX_X_B = [-0.7, 1.6, 1.9, 1.6, 0.7, 1.3, 2.2, 1.0, 0.4, -0.8, -2.5, -2.6,
  -2.3, -0.7, 0.6, 1.6, 1.9, -0.1, -0.5, -1.1, -2.2, -3.3, -4.0, -2.6,
  -1.7, -2.0, -1.5, -1.5];
const TSX_Y_B = [4.1, 3.8, 3.4, 3.5, 2.0, 0.7, -1.6, -1.6, -1.8, -2.3, -0.6, 2.2,
  3.0, 4.4, 5.2, 5.0, 5.2, 2.2, 0.8, 0.2, -0.3, -0.2, 0.8, 2.5,
  4.4, 5.1, 4.7, 4.5];
const TSX_Z_B = [3.2, 6.6, 8.2, 5.5, 2.6, 1.2, 0.8, 1.2, -3.0, -5.6, -6.3, -5.6,
  -1.6, 0.8, 2.9, 3.8, 3.4, 1.9, 1.2, -0.7, -4.2, -7.8, -8.2, -4.9,
  -1.4, 1.0, 1.9, 2.2];

// series -> list of [first month index, X values, Y values, Z values]
const SERIES_SEGMENTS: Array<Array<[number, (number | null)[], (number | null)[], (number | null)[]]>> = [
  [[0, GRA_X, GRA_Y, GRA_Z]],
  [[0, GRB_X, GRB_Y, GRB_Z]],
  [[41, GRC_X, GRC_Y, GRC_Z]],
  [[41, GRD_X, GRD_Y, GRD_Z]],
  [[0, JA2_X, JA2_Y, JA2_Z]],
  [[14, JA3_X, JA3_Y, JA3_Z]],
  [[14, S3A_X, S3A_Y, S3A_Z]],
  [[41, S3B_X, S3B_Y, S3B_Z]],
  [[71, S6A_X, S6A_Y, S6A_Z]],
  [[0, SWA_X, SWA_Y, SWA_Z]],
  [[0, SWB_X, SWB_Y, SWB_Z]],
  [[0, SWC_X, SWC_Y, SWC_Z]],
  [[0, TSX_X_A, TSX_Y_A, TSX_Z_A], [93, TSX_X_B, TSX_Y_B, TSX_Z_B]],
];

// ---------------- layout & style ----------------
const FIG_W = 2445;
const FIG_H = 1184;
const PLOT_LEFT = 145;
const PLOT_RIGHT = 2442;
const FONT = '"DejaVu Sans", "Liberation Sans", sans-serif';
const PANELS = [
  { top: 8, bottom: 345, padTop: 8, axisH: 20, labels: false, lw: 4.6 },
  { top: 403, bottom: 741, padTop: 10, axisH: 20, labels: false, lw: 4.6 },
  { top: 798, bottom: 1137, padTop: 20, axisH: 47, labels: true, lw: 3.4 },
];

function buildDatasets(panel: number) {
  return SERIES_NAMES.map((name, si) => {
    const pts: { x: number; y: number | null }[] = [];
    SERIES_SEGMENTS[si].forEach((seg, k) => {
      const start = seg[0];
      const vals = seg[1 + panel];
      if (k > 0) {
        pts.push({ x: BASE_YEAR + (start - 0.5) / MONTHS_PER_YEAR, y: null });
      }
      vals.forEach((v, i) => {
        pts.push({ x: BASE_YEAR + (start + i) / MONTHS_PER_YEAR, y: v });
      });
    });
    return {
      label: name,
      data: pts,
      borderColor: SERIES_COLORS[si],
      backgroundColor: SERIES_COLORS[si],
      borderWidth: PANELS[panel].lw,
      pointRadius: 0,
      pointHoverRadius: 0,
      tension: 0,
      fill: false,
      spanGaps: false,
      borderJoinStyle: "round" as const,
      borderCapStyle: "round" as const,
      order: SERIES_NAMES.length - 1 - si,
    };
  });
}

const framePlugin = {
  id: "mplFrame",
  afterDatasetsDraw(chart: any) {
    const { ctx, chartArea: a } = chart;
    ctx.save();
    ctx.strokeStyle = "#000";
    ctx.lineWidth = 2;
    ctx.strokeRect(a.left, a.top, a.right - a.left, a.bottom - a.top);
    ctx.restore();
  },
};

const legendPlugin = {
  id: "mplLegend",
  afterDraw(chart: any, _args: any, opts: any) {
    if (!opts || !opts.show) return;
    const { ctx, chartArea: a } = chart;
    const fontSize = 18.5;
    const handleLen = 43;
    const handleGap = 14;
    const colGap = 38.5;
    const padL = 8;
    const padR = 10;
    ctx.save();
    ctx.font = `${fontSize}px ${FONT}`;
    const widths = SERIES_NAMES.map((n) => ctx.measureText(n).width);
    const content =
      widths.reduce((s, w) => s + handleLen + handleGap + w, 0) + colGap * (SERIES_NAMES.length - 1);
    const boxRight = a.right - 10;
    const boxLeft = boxRight - content - padL - padR;
    const boxTop = a.top + 9;
    const boxH = 36;
    ctx.beginPath();
    if ((ctx as any).roundRect) (ctx as any).roundRect(boxLeft, boxTop, boxRight - boxLeft, boxH, 4);
    else ctx.rect(boxLeft, boxTop, boxRight - boxLeft, boxH);
    ctx.fillStyle = "rgba(255,255,255,0.8)";
    ctx.fill();
    ctx.strokeStyle = "#cccccc";
    ctx.lineWidth = 1.5;
    ctx.stroke();
    let x = boxLeft + padL;
    const cy = boxTop + boxH / 2;
    SERIES_NAMES.forEach((n, i) => {
      ctx.beginPath();
      ctx.strokeStyle = SERIES_COLORS[i];
      ctx.lineWidth = 4.3;
      ctx.moveTo(x, cy);
      ctx.lineTo(x + handleLen, cy);
      ctx.stroke();
      ctx.fillStyle = "#000";
      ctx.textBaseline = "middle";
      ctx.textAlign = "left";
      ctx.fillText(n, x + handleLen + handleGap, cy + 1);
      x += handleLen + handleGap + widths[i] + colGap;
    });
    ctx.restore();
  },
};

function fmtY(v: number) {
  return v < 0 ? "\u2212" + String(Math.abs(v)) : String(v);
}

function Panel({ index }: { index: number }) {
  const ref = useRef<HTMLCanvasElement>(null);
  const cfg = PANELS[index];
  const h = cfg.bottom - cfg.top + cfg.padTop + cfg.axisH;

  useEffect(() => {
    const canvas = ref.current;
    if (!canvas) return;
    const yTicks = PANEL_Y_TICKS[index];
    const chart = new Chart(canvas, {
      type: "line",
      data: { datasets: buildDatasets(index) as any },
      options: {
        animation: false,
        responsive: false,
        maintainAspectRatio: false,
        devicePixelRatio: 1,
        events: [],
        layout: { padding: { top: cfg.padTop, right: FIG_W - PLOT_RIGHT, left: 0, bottom: 0 } },
        plugins: {
          legend: { display: false },
          tooltip: { enabled: false },
          mplLegend: { show: index === 0 },
        } as any,
        scales: {
          x: {
            type: "linear",
            min: X_MIN,
            max: X_MAX,
            afterBuildTicks: (s: any) => {
              s.ticks = X_TICKS.map((v) => ({ value: v }));
            },
            afterFit: (s: any) => {
              s.height = cfg.axisH;
            },
            grid: {
              color: "#b0b0b0",
              lineWidth: 2,
              drawTicks: true,
              tickLength: 9,
              tickColor: "#000",
              tickWidth: 2,
            },
            border: { display: false },
            ticks: {
              display: cfg.labels,
              autoSkip: false,
              maxRotation: 0,
              padding: -2,
              color: "#000",
              font: { family: FONT, size: 33 },
              callback: (v: any) => String(v),
            },
          },
          y: {
            type: "linear",
            min: PANEL_Y_RANGE[index][0],
            max: PANEL_Y_RANGE[index][1],
            afterBuildTicks: (s: any) => {
              s.ticks = yTicks.map((v) => ({ value: v }));
            },
            afterFit: (s: any) => {
              s.width = PLOT_LEFT;
            },
            grid: {
              color: "#b0b0b0",
              lineWidth: 2,
              drawTicks: true,
              tickLength: 9,
              tickColor: "#000",
              tickWidth: 2,
            },
            border: { display: false },
            ticks: {
              padding: 4,
              color: "#000",
              font: { family: FONT, size: 33 },
              callback: (v: any) => fmtY(Number(v)),
            },
            title: {
              display: true,
              text: PANEL_TITLES[index],
              color: "#000",
              font: { family: FONT, size: 32 },
              padding: { top: 36, bottom: 0 },
            },
          },
        },
      } as any,
      plugins: [framePlugin, legendPlugin],
    });
    return () => chart.destroy();
  }, [index]);

  return (
    <canvas
      ref={ref}
      width={FIG_W}
      height={h}
      style={{ position: "absolute", left: 0, top: cfg.top - cfg.padTop, width: FIG_W, height: h }}
    />
  );
}

export default function App() {
  return (
    <div
      style={{
        position: "fixed",
        left: 0,
        top: 0,
        width: FIG_W,
        height: FIG_H,
        background: "#fff",
        overflow: "hidden",
      }}
    >
      <Panel index={0} />
      <Panel index={1} />
      <Panel index={2} />
    </div>
  );
}
